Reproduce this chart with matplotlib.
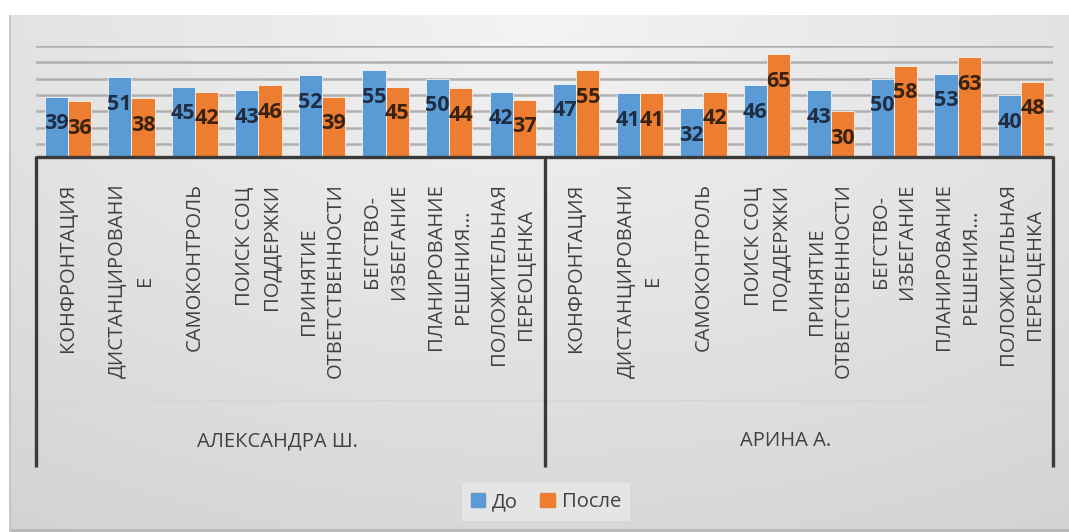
import matplotlib

matplotlib.use("Agg")
import matplotlib.pyplot as plt
import numpy as np
from matplotlib.patches import Patch
import matplotlib.transforms as mtransforms

# coping strategies, before / after, for two people
categories = [
    "КОНФРОНТАЦИЯ",
    "ДИСТАНЦИРОВАНИ\nЕ",
    "САМОКОНТРОЛЬ",
    "ПОИСК СОЦ\nПОДДЕРЖКИ",
    "ПРИНЯТИЕ\nОТВЕТСТВЕННОСТИ",
    "БЕГСТВО-\nИЗБЕГАНИЕ",
    "ПЛАНИРОВАНИЕ\nРЕШЕНИЯ...",
    "ПОЛОЖИТЕЛЬНАЯ\nПЕРЕОЦЕНКА",
]
groups = ["АЛЕКСАНДРА Ш.", "АРИНА А."]
series_names = ["До", "После"]
before = [39, 51, 45, 43, 52, 55, 50, 42, 47, 41, 32, 46, 43, 50, 53, 40]
after = [36, 38, 42, 46, 39, 45, 44, 37, 55, 41, 42, 65, 30, 58, 63, 48]

BLUE = "#5B9BD5"
ORANGE = "#ED7D31"
TEXT = "#404040"

W, H = 1069, 532
plt.rcParams["font.family"] = ["Open Sans", "DejaVu Sans"]


def fx(px):
    return px / W


def fy(py):
    return 1 - py / H


fig = plt.figure(figsize=(W / 100, H / 100), dpi=100)
fig.patch.set_facecolor("white")

# grey radial backdrop of the chart area
bg = fig.add_axes([fx(9), 0, 1 - fx(9), fy(15)])
yy, xx = np.mgrid[0:1:300j, 0:1:600j]
r = np.sqrt(((xx - 0.5) / 0.9) ** 2 + ((yy - 0.0) / 1.1) ** 2)
shade = np.clip(0.955 - 0.12 * r, 0.83, 0.96)
bg.imshow(np.dstack([shade] * 3), aspect="auto", extent=[0, 1, 1, 0])
bg.set_xlim(0, 1)
bg.set_ylim(1, 0)
bg.axis("off")
bg.plot([0, 1], [0.003, 0.003], color="#b8b8b8", lw=2, transform=bg.transAxes)
bg.plot([0.001, 0.001], [0, 1], color="#c6c6c6", lw=1.5, transform=bg.transAxes)

ax = fig.add_axes([fx(36), fy(157), fx(1053) - fx(36), fy(46) - fy(157)])
ax.set_facecolor("none")

n = len(before)
x = np.arange(n)
bw = 0.365
b1 = ax.bar(x - bw / 2, before, bw, color=BLUE, edgecolor="white", linewidth=0.5, zorder=3)
b2 = ax.bar(x + bw / 2, after, bw, color=ORANGE, edgecolor="white", linewidth=0.5, zorder=3)

for bars, vals, col in [(b1, before, "#1F2D45"), (b2, after, "#3A2210")]:
    for rect, v in zip(bars, vals):
        ax.annotate(
            str(v),
            (rect.get_x() + rect.get_width() / 2, v),
            xytext=(0, -19.5),
            textcoords="offset points",
            ha="center",
            va="center",
            fontsize=15.5,
            fontweight="bold",
            color=col,
            zorder=4,
        )

ax.set_xlim(-0.5, n - 0.5)
ax.set_ylim(2, 70)
ax.set_yticks(np.arange(10, 71, 10))
ax.yaxis.grid(True, color="#b0b0b0", linewidth=1.8, zorder=0)
ax.tick_params(axis="y", left=False, labelleft=False)
for s in ax.spines.values():
    s.set_visible(False)

ax.set_xticks(x)
ax.set_xticklabels(categories * len(groups), rotation=90, va="top", ha="center",
                   multialignment="center", fontsize=14.5, color=TEXT, linespacing=1.45)
ax.tick_params(axis="x", length=0, pad=19)

# multi-level category axis: brackets and group names
trans = mtransforms.blended_transform_factory(ax.transData, fig.transFigure)
ax.plot([-0.5, n - 0.5], [fy(157), fy(157)], color="#3a3a3a", lw=2.4, transform=trans,
        clip_on=False, zorder=5, solid_capstyle="butt")
ax.plot([-0.5, n - 0.5], [fy(400), fy(400)], color="#d6d6d6", lw=1, transform=trans,
        clip_on=False, zorder=1)
per = len(categories)
for k in range(len(groups) + 1):
    xb = -0.5 + k * per
    ax.plot([xb, xb], [fy(156), fy(467)], color="#3a3a3a", lw=2.4, transform=trans,
            clip_on=False, zorder=5, solid_capstyle="butt")
for k, g in enumerate(groups):
    ax.text(-0.5 + k * per + per / 2 - 0.2, fy(441), g, transform=trans, ha="center",
            va="center", fontsize=14.5, color=TEXT)

handles = [Patch(color=BLUE), Patch(color=ORANGE)]
leg = fig.legend(handles, series_names, loc="center", bbox_to_anchor=(fx(546), fy(502)),
                 ncol=2, frameon=True, fontsize=14.5, handlelength=0.7, handleheight=0.7,
                 handletextpad=0.35, columnspacing=1.1, borderpad=0.45, fancybox=False)
leg.get_frame().set_facecolor("#e9e9e9")
leg.get_frame().set_edgecolor("none")
for t in leg.get_texts():
    t.set_color(TEXT)

fig.savefig("out.png", dpi=100)
